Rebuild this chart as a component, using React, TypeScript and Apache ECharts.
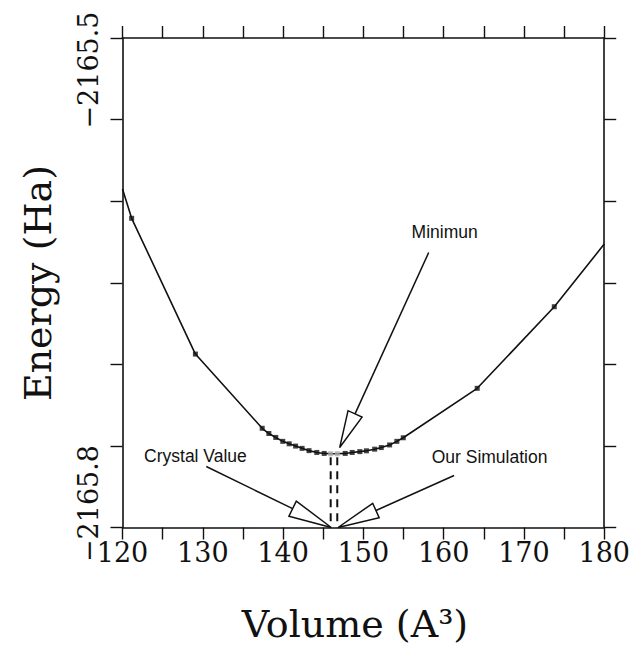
import React, { useEffect, useRef } from "react";
import * as echarts from "echarts";

// ---- data ----
const volumes = [
  120, 121.14, 129.08, 137.4, 138.23, 139.09, 139.96, 140.76, 141.56, 142.37,
  143.23, 144.2, 145.12, 145.93, 146.75, 147.74, 148.61, 149.56, 150.38, 151.41,
  152.23, 153.27, 154.17, 154.97, 164.18, 173.78, 180,
];
const energies = [
  -2165.5926, -2165.6105, -2165.6937, -2165.7392, -2165.7424, -2165.7448, -2165.7472,
  -2165.7487, -2165.7501, -2165.7515, -2165.7529, -2165.754, -2165.7546, -2165.7548,
  -2165.7548, -2165.7546, -2165.754, -2165.7535, -2165.753, -2165.752, -2165.751,
  -2165.7494, -2165.7472, -2165.745, -2165.7147, -2165.6647, -2165.6263,
];
// "edge": where the curve meets the frame, "pt": measured point, "min": minimum points
const pointKinds = [
  "edge", "pt", "pt", "pt", "pt", "pt", "pt", "pt", "pt", "pt",
  "pt", "pt", "pt", "min", "min", "pt", "pt", "pt", "pt", "pt",
  "pt", "pt", "pt", "pt", "pt", "pt", "edge",
];

const xMin = 120;
const xMax = 180;
const xInterval = 5;
const xLabelStep = 10;
const yMin = -2165.8;
const yMax = -2165.5;
const yInterval = 0.05;
const yTickLabels = ["\u22122165.5", "\u22122165.8"];
const yTickLabelValues = [-2165.5, -2165.8];

// vertical dashed reference lines: crystal value, our simulation
const referenceVolumes = [145.93, 146.75];
const dashTopEnergy = -2165.757;

const annotationLabels = ["Minimun", "Crystal Value", "Our Simulation"];
const annotationTips = [
  [147.05, -2165.751],
  [146.0, -2165.8],
  [146.85, -2165.8],
];

const xTitle = "Volume (A\u00B3)";
const yTitle = "Energy (Ha)";

// ---- styling (pixel offsets relative to arrow tips) ----
const arrowStartOffsets = [
  [89, -195],
  [-125, -61],
  [116, -52],
];
const labelOffsets = [
  [105, -215.5],
  [-135.8, -71.7],
  [151.5, -70.7],
];
const headLengths = [37, 43, 41.5];
const headHalfWidths = [7.7, 8.4, 7.9];

const INK = "#111";
const SERIF = '"DejaVu Serif", serif';
const SANS = '"Liberation Sans", Arial, sans-serif';

const GRID = { left: 122.5, top: 38, right: 25, bottom: 119.5 };

export default function App() {
  const ref = useRef<HTMLDivElement>(null);

  useEffect(() => {
    document.body.style.margin = "0";
    const chart = echarts.init(ref.current!, null, { renderer: "svg" });

    const curve = volumes.map((v, i) => [v, energies[i]]);
    const measured = curve.filter((_, i) => pointKinds[i] === "pt");
    const minimum = curve.filter((_, i) => pointKinds[i] === "min");

    const axisCommon = {
      type: "value" as const,
      axisLine: { show: true, onZero: false, lineStyle: { color: INK, width: 1.6 } },
      axisTick: { show: true, inside: false, length: 12, lineStyle: { color: INK, width: 1.4 } },
      splitLine: { show: false },
    };

    const option: any = {
      animation: false,
      backgroundColor: "#fff",
      grid: { ...GRID, containLabel: false },
      xAxis: [
        {
          ...axisCommon,
          position: "bottom",
          min: xMin,
          max: xMax,
          interval: xInterval,
          axisLabel: {
            show: true,
            margin: 11,
            color: INK,
            fontFamily: SERIF,
            fontSize: 27,
            formatter: (v: number) => (v % xLabelStep === 0 ? String(v) : ""),
          },
        },
        {
          ...axisCommon,
          position: "top",
          min: xMin,
          max: xMax,
          interval: xInterval,
          axisLabel: { show: false },
        },
      ],
      yAxis: [
        {
          ...axisCommon,
          position: "left",
          min: yMin,
          max: yMax,
          interval: yInterval,
          axisLabel: { show: false },
        },
        {
          ...axisCommon,
          position: "right",
          min: yMin,
          max: yMax,
          interval: yInterval,
          axisLabel: { show: false },
        },
      ],
      series: [
        {
          type: "line",
          data: curve,
          showSymbol: false,
          clip: true,
          lineStyle: { color: INK, width: 1.6 },
          silent: true,
          z: 3,
        },
        {
          type: "scatter",
          data: measured,
          symbol: "rect",
          symbolSize: 5,
          itemStyle: { color: INK },
          silent: true,
          z: 4,
        },
        {
          type: "scatter",
          data: minimum,
          symbol: "rect",
          symbolSize: 5,
          itemStyle: { color: "#aaa" },
          silent: true,
          z: 4,
        },
        ...referenceVolumes.map((v) => ({
          type: "line",
          data: [
            [v, dashTopEnergy],
            [v, yMin],
          ],
          showSymbol: false,
          lineStyle: { color: INK, width: 2, type: [8, 6] },
          silent: true,
          z: 2,
        })),
      ],
    };

    chart.setOption(option);

    const toPx = (p: number[]) =>
      chart.convertToPixel({ xAxisIndex: 0, yAxisIndex: 0 }, p) as number[];

    const graphics: any[] = [];

    annotationTips.forEach((tipData, i) => {
      const tip = toPx(tipData);
      const start = [tip[0] + arrowStartOffsets[i][0], tip[1] + arrowStartOffsets[i][1]];
      const dx = tip[0] - start[0];
      const dy = tip[1] - start[1];
      const len = Math.hypot(dx, dy);
      const ux = dx / len;
      const uy = dy / len;
      const base = [tip[0] - ux * headLengths[i], tip[1] - uy * headLengths[i]];
      const px = -uy * headHalfWidths[i];
      const py = ux * headHalfWidths[i];
      graphics.push({
        type: "polyline",
        shape: { points: [start, base] },
        style: { stroke: INK, lineWidth: 1.5, fill: null },
        z: 10,
        silent: true,
      });
      graphics.push({
        type: "polygon",
        shape: {
          points: [
            tip,
            [base[0] + px, base[1] + py],
            [base[0] - px, base[1] - py],
          ],
        },
        style: { fill: "#fff", stroke: INK, lineWidth: 1.5 },
        z: 11,
        silent: true,
      });
      graphics.push({
        type: "text",
        x: tip[0] + labelOffsets[i][0],
        y: tip[1] + labelOffsets[i][1],
        style: {
          text: annotationLabels[i],
          fontFamily: SANS,
          fontSize: 17.5,
          fill: INK,
          align: "center",
          verticalAlign: "middle",
        },
        z: 12,
        silent: true,
      });
    });

    // y tick labels (rotated)
    const yLabelShift = [32, -24];
    yTickLabelValues.forEach((val, i) => {
      const p = toPx([xMin, val]);
      graphics.push({
        type: "text",
        x: p[0] - 34,
        y: p[1] + yLabelShift[i],
        rotation: Math.PI / 2,
        style: {
          text: yTickLabels[i],
          fontFamily: SERIF,
          fontSize: 27,
          fill: INK,
          align: "center",
          verticalAlign: "middle",
        },
        silent: true,
      });
    });

    // axis titles
    graphics.push({
      type: "text",
      x: 38,
      y: 283,
      rotation: Math.PI / 2,
      style: {
        text: yTitle,
        fontFamily: SERIF,
        fontSize: 38,
        fill: INK,
        align: "center",
        verticalAlign: "middle",
      },
      silent: true,
    });
    graphics.push({
      type: "text",
      x: 355,
      y: 624,
      style: {
        text: xTitle,
        fontFamily: SERIF,
        fontSize: 38,
        fill: INK,
        align: "center",
        verticalAlign: "middle",
      },
      silent: true,
    });

    chart.setOption({ graphic: graphics });

    return () => chart.dispose();
  }, []);

  return <div ref={ref} style={{ width: 633, height: 647 }} />;
}
